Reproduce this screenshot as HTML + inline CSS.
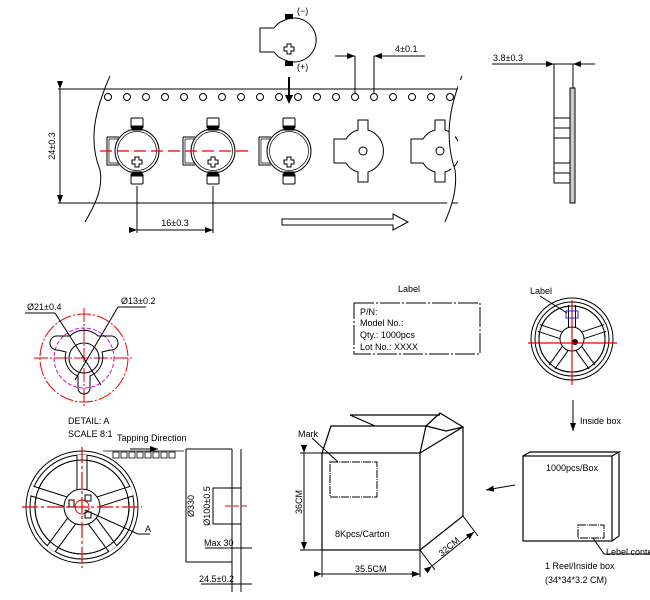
<!DOCTYPE html>
<html><head><meta charset="utf-8"><style>
html,body{margin:0;padding:0;background:#fff;}
svg{display:block;font-family:"Liberation Sans Narrow","Liberation Sans",sans-serif;}
text{font-size:9px;fill:#000;}
</style></head><body>
<svg width="650" height="600" viewBox="0 0 650 600" xmlns="http://www.w3.org/2000/svg">
<defs>
<marker id="ar" markerWidth="8" markerHeight="6" refX="8" refY="3" orient="auto" markerUnits="userSpaceOnUse"><path d="M0,0 L8,3 L0,6 z" fill="#000"/></marker>
<g id="comp" fill="none" stroke="#000" stroke-width="1">
 <path d="M-30,-14 h12 M-30,-14 v28 h12" />
 <path d="M-28,-12 h10 M-28,-12 v24 h10" stroke-width="0.7"/>
 <circle r="22"/><circle r="19.5" stroke-width="0.7"/>
 <rect x="-6" y="-33" width="12" height="10" rx="1" fill="#fff"/>
 <rect x="-6" y="23" width="12" height="10" rx="1" fill="#fff"/>
 <rect x="-5" y="-25" width="10" height="4" fill="#000"/>
 <rect x="-5" y="21" width="10" height="4" fill="#000"/>
 <path d="M-2,6 h4 v3 h3 v4 h-3 v3 h-4 v-3 h-3 v-4 h3z"/>
</g>
<g id="blank" fill="#fff" stroke="#000" stroke-width="1">
 <path d="M-29,-12 h12 a20,20 0 0 1 12,-9 v-10 h10 v10 a22,22 0 0 1 0,42 v10 h-10 v-10 a20,20 0 0 1 -12,-9 h-12 z"/>
 <circle r="4"/>
</g>
</defs>

<!-- tape -->
<line x1="58" y1="89" x2="460" y2="89" stroke="#000"/>
<line x1="58" y1="203" x2="460" y2="203" stroke="#000"/>
<path d="M110,76 C95,110 88,140 100,170 C104,190 92,210 85,222" fill="none" stroke="#000"/>
<g fill="none" stroke="#000">
<circle cx="108" cy="97" r="3.5"/><circle cx="127" cy="97" r="3.5"/><circle cx="146" cy="97" r="3.5"/><circle cx="165" cy="97" r="3.5"/><circle cx="184" cy="97" r="3.5"/><circle cx="203" cy="97" r="3.5"/><circle cx="222" cy="97" r="3.5"/><circle cx="241" cy="97" r="3.5"/><circle cx="260" cy="97" r="3.5"/><circle cx="279" cy="97" r="3.5"/><circle cx="298" cy="97" r="3.5"/><circle cx="317" cy="97" r="3.5"/><circle cx="336" cy="97" r="3.5"/><circle cx="355" cy="97" r="3.5"/><circle cx="374" cy="97" r="3.5"/><circle cx="393" cy="97" r="3.5"/><circle cx="412" cy="97" r="3.5"/><circle cx="431" cy="97" r="3.5"/><circle cx="450" cy="97" r="3.5"/>
</g>
<use href="#comp" x="137" y="151"/>
<use href="#comp" x="213" y="151"/>
<use href="#comp" x="289" y="151"/>
<use href="#blank" x="363" y="151"/>
<use href="#blank" x="440" y="151"/>
<path d="M462,76 C448,110 445,140 455,170 C458,190 450,210 445,222" fill="#fff" stroke="#000"/>
<rect x="458" y="80" width="20" height="130" fill="#fff"/>
<line x1="100" y1="151" x2="250" y2="151" stroke="#e00" stroke-width="1.2" stroke-dasharray="12,5"/>
<!-- floating component -->
<g fill="none" stroke="#000">
 <path d="M274,28 h-14 v24 h14"/>
 <path d="M285,20 A22,22 0 1 1 285,60"/>
 <path d="M285,20 A22,22 0 0 0 274,28 M285,60 A22,22 0 0 1 274,52"/>
 <path d="M287,44 h4 v3 h3 v4 h-3 v3 h-4 v-3 h-3 v-4 h3z"/>
</g>
<rect x="285" y="14" width="8" height="5" fill="#000"/>
<rect x="285" y="61" width="8" height="5" fill="#000"/>
<text x="297" y="14" font-size="9">(−)</text>
<text x="297" y="70" font-size="9">(+)</text>
<line x1="289" y1="77" x2="289" y2="96" stroke="#000" stroke-width="2"/>
<path d="M285,95 L289,104 L293,95z" fill="#000"/>
<!-- dims -->
<line x1="60" y1="89" x2="60" y2="203" stroke="#000" marker-start="url(#ar)" marker-end="url(#ar)"/>
<text transform="translate(55,146) rotate(-90)" text-anchor="middle" font-size="11">24±0.3</text>
<line x1="137" y1="186" x2="137" y2="233" stroke="#000"/>
<line x1="213" y1="186" x2="213" y2="233" stroke="#000"/>
<line x1="137" y1="230" x2="213" y2="230" stroke="#000" marker-start="url(#ar)" marker-end="url(#ar)"/>
<text x="175" y="226" text-anchor="middle" font-size="11">16±0.3</text>
<line x1="355" y1="56" x2="355" y2="94" stroke="#000"/>
<line x1="374" y1="56" x2="374" y2="94" stroke="#000"/>
<line x1="335" y1="56" x2="355" y2="56" stroke="#000" marker-end="url(#ar)"/>
<line x1="425" y1="56" x2="374" y2="56" stroke="#000" marker-end="url(#ar)"/>
<text x="395" y="52" font-size="11">4±0.1</text>
<path d="M282,219 H393 V214 L408,222 L393,230 V225 H282 Z" fill="none" stroke="#000"/>
<!-- side view -->
<text x="493" y="61" font-size="11">3.8±0.3</text>
<line x1="492" y1="64" x2="554" y2="64" stroke="#000" marker-end="url(#ar)"/>
<line x1="595" y1="64" x2="573" y2="64" stroke="#000" marker-end="url(#ar)"/>
<line x1="554" y1="64" x2="573" y2="64" stroke="#000"/>
<line x1="554" y1="64" x2="554" y2="118" stroke="#000"/>
<line x1="573" y1="64" x2="573" y2="88" stroke="#000"/>
<rect x="570" y="88" width="5" height="115" fill="#ccc" stroke="#000"/>
<rect x="554" y="118" width="16" height="65" fill="none" stroke="#000"/>
<path d="M554,128h16M554,138h16M554,163h16M554,173h16" stroke="#000"/>

<!-- detail A -->
<g fill="none">
<circle cx="84" cy="358" r="44" stroke="#e00" stroke-dasharray="14,2,2,2"/>
<circle cx="84" cy="358" r="30" stroke="#d0d" stroke-dasharray="4,2"/>
<line x1="34" y1="358" x2="134" y2="358" stroke="#e00" stroke-dasharray="14,2,2,2"/>
<line x1="84" y1="308" x2="84" y2="406" stroke="#e00" stroke-dasharray="14,2,2,2"/>
<path d="M70,336 L56,336 A6,6 0 0 0 58,350 L66,352 A20,20 0 0 0 78,376 L78,388 A6,6 0 0 0 90,388 L90,376 A20,20 0 0 0 102,352 L110,350 A6,6 0 0 0 112,336 L98,336 A20,20 0 0 0 70,336Z" stroke="#000"/>
<circle cx="84" cy="358" r="15" stroke="#000"/>
<line x1="55" y1="313" x2="101" y2="385" stroke="#000"/>
<line x1="118" y1="307" x2="75" y2="380" stroke="#000"/>
<line x1="25" y1="313" x2="55" y2="313" stroke="#000"/>
<line x1="118" y1="307" x2="146" y2="307" stroke="#000"/>
</g>
<text x="27" y="310" font-size="7">Ø21±0.4</text>
<text x="121" y="304" font-size="7">Ø13±0.2</text>
<text x="68" y="424" font-size="10">DETAIL: A</text>
<text x="68" y="437" font-size="10">SCALE 8:1</text>
<text x="117" y="441" font-size="10">Tapping Direction</text>
<line x1="130" y1="449" x2="158" y2="449" stroke="#000" marker-end="url(#ar)"/>
<!-- big reel -->
<g fill="none" stroke="#000">
<circle cx="82" cy="507" r="56"/><circle cx="82" cy="507" r="52"/>
<circle cx="82" cy="507" r="47"/>
</g>
<g stroke-linecap="butt">
<line x1="82" y1="507" x2="82" y2="455" stroke="#000" stroke-width="11"/>
<line x1="82" y1="507" x2="132" y2="491" stroke="#000" stroke-width="11"/>
<line x1="82" y1="507" x2="113" y2="549" stroke="#000" stroke-width="11"/>
<line x1="82" y1="507" x2="51" y2="549" stroke="#000" stroke-width="11"/>
<line x1="82" y1="507" x2="32" y2="491" stroke="#000" stroke-width="11"/>
<line x1="82" y1="507" x2="82" y2="455" stroke="#fff" stroke-width="9"/>
<line x1="82" y1="507" x2="132" y2="491" stroke="#fff" stroke-width="9"/>
<line x1="82" y1="507" x2="113" y2="549" stroke="#fff" stroke-width="9"/>
<line x1="82" y1="507" x2="51" y2="549" stroke="#fff" stroke-width="9"/>
<line x1="82" y1="507" x2="32" y2="491" stroke="#fff" stroke-width="9"/>
</g>
<circle cx="82" cy="507" r="47" fill="none" stroke="#000"/>
<circle cx="82" cy="507" r="18" fill="#fff" stroke="#000"/>
<circle cx="82" cy="507" r="7" fill="none" stroke="#e00"/>
<rect x="69" y="500" width="5" height="7" fill="none" stroke="#000"/>
<rect x="85" y="495" width="6" height="6" fill="none" stroke="#000"/>
<rect x="85" y="512" width="6" height="6" fill="none" stroke="#000"/>
<line x1="22" y1="507" x2="142" y2="507" stroke="#e00" stroke-width="1.2" stroke-dasharray="16,3,3,3"/>
<line x1="82" y1="447" x2="82" y2="568" stroke="#e00" stroke-width="1.2" stroke-dasharray="16,3,3,3"/>
<polyline points="85,510 138,534 150,534" fill="none" stroke="#000"/>
<text x="145" y="532" font-size="8">A</text>
<g fill="none" stroke="#000" stroke-width="0.8">
<rect x="113" y="452" width="6" height="6"/><rect x="121" y="452" width="6" height="6"/><rect x="129" y="452" width="6" height="6"/><rect x="137" y="452" width="6" height="6"/><rect x="145" y="452" width="6" height="6"/><rect x="153" y="452" width="6" height="6"/><rect x="161" y="452" width="6" height="6"/><rect x="169" y="452" width="6" height="6"/>
<line x1="103" y1="451" x2="184" y2="451"/>
</g>
<!-- reel side -->
<g fill="none" stroke="#000">
<line x1="186" y1="449" x2="232" y2="449"/>
<line x1="186" y1="562" x2="232" y2="562"/>
<line x1="186" y1="449" x2="186" y2="562"/>
<line x1="232" y1="449" x2="232" y2="592"/>
<line x1="241" y1="449" x2="241" y2="592"/>
<rect x="213" y="488" width="28" height="36"/>
<line x1="205" y1="548" x2="252" y2="548"/>
<line x1="201" y1="584" x2="252" y2="584"/>
</g>
<line x1="225" y1="506" x2="248" y2="506" stroke="#e00" stroke-dasharray="6,2"/>
<text transform="translate(194,506) rotate(-90)" text-anchor="middle" font-size="8">Ø330</text>
<text transform="translate(210,506) rotate(-90)" text-anchor="middle" font-size="8">Ø100±0.5</text>
<text x="204" y="546" font-size="8">Max 30</text>
<text x="199" y="582" font-size="8">24.5±0.2</text>

<!-- label -->
<text x="398" y="292" font-size="10">Label</text>
<rect x="354" y="303" width="126" height="51" fill="none" stroke="#000" stroke-dasharray="20,2,2,2"/>
<text x="360" y="315" font-size="10">P/N:</text>
<text x="360" y="326" font-size="10">Model No.:</text>
<text x="360" y="338" font-size="10">Qty.: 1000pcs</text>
<text x="360" y="350" font-size="10">Lot No.: XXXX</text>

<!-- small reel -->
<g fill="none" stroke="#000">
<circle cx="572" cy="339" r="41"/><circle cx="572" cy="339" r="37"/><circle cx="572" cy="339" r="33"/>
</g>
<g>
<line x1="572" y1="339" x2="572" y2="305" stroke="#000" stroke-width="8"/>
<line x1="572" y1="339" x2="605" y2="328" stroke="#000" stroke-width="8"/>
<line x1="572" y1="339" x2="592" y2="367" stroke="#000" stroke-width="8"/>
<line x1="572" y1="339" x2="552" y2="367" stroke="#000" stroke-width="8"/>
<line x1="572" y1="339" x2="539" y2="328" stroke="#000" stroke-width="8"/>
<line x1="572" y1="339" x2="572" y2="305" stroke="#fff" stroke-width="6"/>
<line x1="572" y1="339" x2="605" y2="328" stroke="#fff" stroke-width="6"/>
<line x1="572" y1="339" x2="592" y2="367" stroke="#fff" stroke-width="6"/>
<line x1="572" y1="339" x2="552" y2="367" stroke="#fff" stroke-width="6"/>
<line x1="572" y1="339" x2="539" y2="328" stroke="#fff" stroke-width="6"/>
</g>
<circle cx="572" cy="339" r="33" fill="none" stroke="#000"/>
<circle cx="572" cy="339" r="12" fill="#fff" stroke="#000"/>
<circle cx="575" cy="342" r="3" fill="#000"/>
<line x1="528" y1="343" x2="617" y2="343" stroke="#e00" stroke-width="1.2"/>
<line x1="572" y1="300" x2="572" y2="385" stroke="#e00" stroke-width="1.2"/>
<rect x="566" y="311" width="12" height="7" fill="none" stroke="#22f"/>
<text x="530" y="294" font-size="7">Label</text>
<line x1="540" y1="296" x2="567" y2="313" stroke="#000"/>
<line x1="573" y1="400" x2="573" y2="431" stroke="#000" marker-end="url(#ar)"/>
<text x="580" y="424" font-size="9">Inside box</text>

<!-- inside box -->
<g fill="none" stroke="#000" stroke-width="1.2">
<rect x="523" y="456" width="89" height="85"/>
<path d="M523,456 L530,452 H619 L612,456 M619,452 V536 L612,541"/>
</g>
<text x="546" y="471" font-size="9">1000pcs/Box</text>
<rect x="578" y="525" width="26" height="13" fill="none" stroke="#000" stroke-dasharray="8,1,1,1"/>
<polyline points="593,538 604,554 650,554" fill="none" stroke="#000"/>
<text x="606" y="555" font-size="8">Lebel content</text>
<text x="545" y="569" font-size="9">1 Reel/Inside box</text>
<text x="545" y="583" font-size="9">(34*34*3.2 CM)</text>
<line x1="515" y1="485" x2="486" y2="490" stroke="#000" marker-end="url(#ar)"/>

<!-- carton -->
<g fill="none" stroke="#000" stroke-width="1.2">
<rect x="322" y="453" width="98" height="97"/>
<path d="M420,453 L463,427 V516 L420,550"/>
<path d="M322,453 L331,426 H426 L420,453"/>
<path d="M426,426 L440,413 L463,427 M350,415 H440 M350,415 L375,426"/>
<path d="M426,426 L446,431 L463,427"/>
</g>
<rect x="330" y="462" width="47" height="35" fill="none" stroke="#000" stroke-dasharray="8,1,1,1"/>
<text x="298" y="437" font-size="7">Mark</text>
<line x1="312" y1="438" x2="338" y2="462" stroke="#000"/>
<text x="335" y="537" font-size="10">8Kpcs/Carton</text>
<line x1="304" y1="453" x2="304" y2="550" stroke="#000" marker-start="url(#ar)" marker-end="url(#ar)"/>
<line x1="300" y1="453" x2="322" y2="453" stroke="#000"/>
<line x1="300" y1="550" x2="322" y2="550" stroke="#000"/>
<text transform="translate(302,502) rotate(-90)" text-anchor="middle" font-size="8">36CM</text>
<line x1="322" y1="550" x2="322" y2="577" stroke="#000"/>
<line x1="420" y1="550" x2="420" y2="577" stroke="#000"/>
<line x1="322" y1="574" x2="420" y2="574" stroke="#000" marker-start="url(#ar)" marker-end="url(#ar)"/>
<text x="355" y="572" font-size="8">35.5CM</text>
<line x1="420" y1="550" x2="435" y2="570" stroke="#000"/>
<line x1="463" y1="516" x2="478" y2="536" stroke="#000"/>
<line x1="432" y1="566" x2="474" y2="532" stroke="#000" marker-start="url(#ar)" marker-end="url(#ar)"/>
<text transform="translate(451,549) rotate(-40)" text-anchor="middle" font-size="8">32CM</text>
</svg>
</body></html>
